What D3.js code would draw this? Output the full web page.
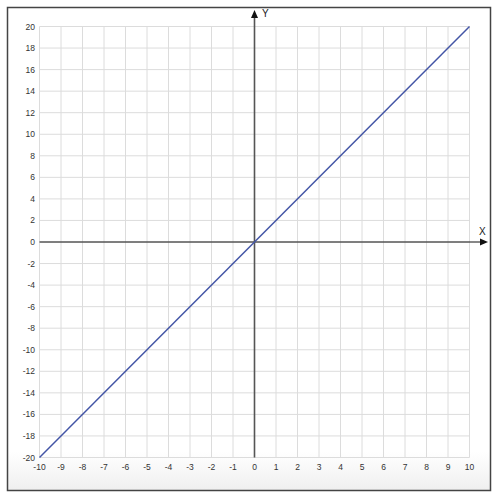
<!DOCTYPE html>
<html>
<head>
<meta charset="utf-8">
<script src="https://cdn.jsdelivr.net/npm/d3@7"></script>
<style>
  body { margin: 0; background: #fff; }
  svg { display: block; font-family: "Liberation Sans", Arial, sans-serif; }
</style>
</head>
<body>
<svg width="500" height="497"></svg>
<script>
// line y = 2x, read at its two ends
var lineX = [-10, 10];
var lineY = [-20, 20];

var xTicks = d3.range(-10, 11, 1);
var yTicks = d3.range(-20, 21, 2);

var svg = d3.select("svg");

var x = d3.scaleLinear().domain([-10, 10]).range([39.5, 469.5]);
var y = d3.scaleLinear().domain([-20, 20]).range([457.5, 26.5]);

/* frame with a faint shade at the bottom */
var grad = svg.append("defs").append("linearGradient")
    .attr("id", "shade").attr("x1", 0).attr("y1", 0).attr("x2", 0).attr("y2", 1);
grad.append("stop").attr("offset", "0.92").attr("stop-color", "#fff");
grad.append("stop").attr("offset", "1").attr("stop-color", "#efefef");

svg.append("rect")
    .attr("x", 7.5).attr("y", 7.5)
    .attr("width", 483).attr("height", 483)
    .attr("fill", "url(#shade)")
    .attr("stroke", "#444")
    .attr("stroke-width", 1.5);

/* grid */
svg.append("g").selectAll("line")
    .data(xTicks)
    .enter().append("line")
    .attr("x1", function(d){ return x(d); })
    .attr("x2", function(d){ return x(d); })
    .attr("y1", y(20)).attr("y2", y(-20))
    .attr("stroke", "#dcdcdc");

svg.append("g").selectAll("line")
    .data(yTicks)
    .enter().append("line")
    .attr("y1", function(d){ return y(d); })
    .attr("y2", function(d){ return y(d); })
    .attr("x1", x(-10)).attr("x2", x(10))
    .attr("stroke", "#dcdcdc");

/* tick labels */
svg.append("g").selectAll("text")
    .data(yTicks)
    .enter().append("text")
    .attr("x", 35)
    .attr("y", function(d){ return y(d) + 3; })
    .attr("text-anchor", "end")
    .attr("font-size", 8.5)
    .attr("fill", "#333")
    .text(function(d){ return d; });

svg.append("g").selectAll("text")
    .data(xTicks)
    .enter().append("text")
    .attr("x", function(d){ return x(d); })
    .attr("y", 470)
    .attr("text-anchor", "middle")
    .attr("font-size", 8.5)
    .attr("fill", "#333")
    .text(function(d){ return d; });

/* axes with arrows */
svg.append("line")
    .attr("x1", x(-10)).attr("x2", 482)
    .attr("y1", y(0)).attr("y2", y(0))
    .attr("stroke", "#111");
svg.append("path")
    .attr("d", "M488," + y(0) + " L480," + (y(0) - 3.5) + " L480," + (y(0) + 3.5) + "Z")
    .attr("fill", "#111");

svg.append("line")
    .attr("x1", x(0)).attr("x2", x(0))
    .attr("y1", y(-20)).attr("y2", 17)
    .attr("stroke", "#555")
    .attr("stroke-width", 1.6);
svg.append("path")
    .attr("d", "M" + x(0) + ",10 L" + (x(0) - 3.5) + ",18 L" + (x(0) + 3.5) + ",18Z")
    .attr("fill", "#111");

svg.append("text")
    .attr("x", 262).attr("y", 17)
    .attr("font-size", 10)
    .attr("fill", "#222")
    .text("Y");
svg.append("text")
    .attr("x", 479).attr("y", 235)
    .attr("font-size", 10)
    .attr("fill", "#222")
    .text("X");

/* the line */
var pts = lineX.map(function(d, i){ return [d, lineY[i]]; });
svg.append("path")
    .datum(pts)
    .attr("d", d3.line()
        .x(function(d){ return x(d[0]); })
        .y(function(d){ return y(d[1]); }))
    .attr("fill", "none")
    .attr("stroke", "#4355a6")
    .attr("stroke-width", 1.5);
</script>
</body>
</html>
